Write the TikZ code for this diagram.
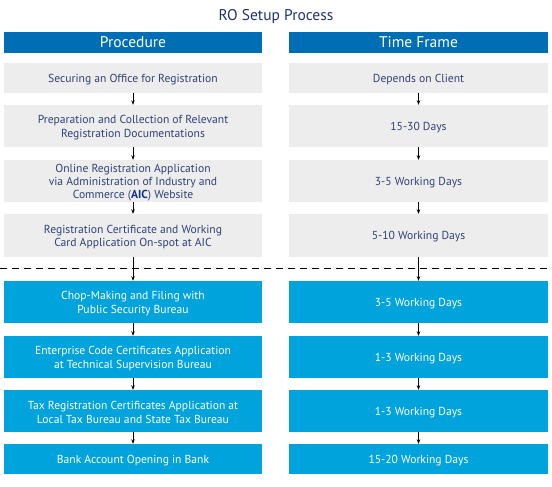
\documentclass[tikz,border=0pt]{standalone}
\usepackage{fontspec}
\setmainfont{PT Sans}
\usetikzlibrary{arrows.meta}
\definecolor{hdrblue}{RGB}{0,110,180}
\definecolor{boxgrey}{RGB}{237,237,237}
\definecolor{brightblue}{RGB}{0,163,220}
\definecolor{greytext}{RGB}{48,66,120}
\definecolor{titleblue}{RGB}{30,52,110}
\definecolor{aicblue}{RGB}{20,50,140}
\begin{document}
\begin{tikzpicture}[x=1pt,y=-1pt,
  hdr/.style={fill=hdrblue,text=white,font=\fontsize{15.5}{17}\selectfont,minimum height=21pt,inner sep=0pt},
  greybox/.style={fill=boxgrey,text=greytext,inner sep=0pt},
  bluebox/.style={fill=brightblue,text=white,inner sep=0pt},
  txt/.style={font=\fontsize{11.6}{13.3}\selectfont,align=center,inner sep=0pt},
  lcol/.style={minimum width=258pt},
  rcol/.style={minimum width=259pt},
  flow/.style={draw=black,line width=0.8pt,-{Stealth[length=4.5pt,width=3.5pt]}}]
\useasboundingbox (0,0) rectangle (552,487);
\fill[white] (0,0) rectangle (552,487);
\node[text=titleblue,font=\fontsize{15.5}{17}\selectfont] (title) at (276,17) {RO Setup Process};
\node[hdr,lcol] (hl) at (133,42.5) {Procedure};
\node[hdr,rcol] (hr) at (418.5,42.5) {Time Frame};
% left column
\node[greybox,lcol,minimum height=30pt] (l1) at (133,78) {};
\node[greybox,lcol,minimum height=42pt] (l2) at (133,126) {};
\node[greybox,lcol,minimum height=42pt] (l3) at (133,181) {};
\node[greybox,lcol,minimum height=43pt] (l4) at (133,235.5) {};
\node[bluebox,lcol,minimum height=42pt] (l5) at (133,302) {};
\node[bluebox,lcol,minimum height=42pt] (l6) at (133,357) {};
\node[bluebox,lcol,minimum height=42pt] (l7) at (133,411) {};
\node[bluebox,lcol,minimum height=30pt] (l8) at (133,459) {};
% right column
\node[greybox,rcol,minimum height=30pt] (r1) at (418.5,78) {};
\node[greybox,rcol,minimum height=42pt] (r2) at (418.5,126) {};
\node[greybox,rcol,minimum height=42pt] (r3) at (418.5,181) {};
\node[greybox,rcol,minimum height=43pt] (r4) at (418.5,235.5) {};
\node[bluebox,rcol,minimum height=42pt] (r5) at (418.5,302) {};
\node[bluebox,rcol,minimum height=42pt] (r6) at (418.5,357) {};
\node[bluebox,rcol,minimum height=42pt] (r7) at (418.5,411) {};
\node[bluebox,rcol,minimum height=30pt] (r8) at (418.5,459) {};
% texts
\begin{scope}[txt,text=greytext]
\node (l1t) at ([yshift=-1.5pt]l1.center) {Securing an Office for Registration};
\node (l2t) at ([yshift=-1.5pt]l2.center) {Preparation and Collection of Relevant\\Registration Documentations};
\node (l3t) at ([yshift=-1.5pt]l3.center) {Online Registration Application\\via Administration of Industry and\\Commerce (\textcolor{aicblue}{\textbf{AIC}}) Website};
\node (l4t) at ([yshift=-1.5pt]l4.center) {Registration Certificate and Working\\Card Application On-spot at AIC};
\node (r1t) at ([yshift=-1.5pt]r1.center) {Depends on Client};
\node (r2t) at ([yshift=-1.5pt]r2.center) {15-30 Days};
\node (r3t) at ([yshift=-1.5pt]r3.center) {3-5 Working Days};
\node (r4t) at ([yshift=-1.5pt]r4.center) {5-10 Working Days};
\end{scope}
\begin{scope}[txt,text=white]
\node (l5t) at ([yshift=-1.5pt]l5.center) {Chop-Making and Filing with\\Public Security Bureau};
\node (l6t) at ([yshift=-1.5pt]l6.center) {Enterprise Code Certificates Application\\at Technical Supervision Bureau};
\node (l7t) at ([yshift=-1.5pt]l7.center) {Tax Registration Certificates Application at\\Local Tax Bureau and State Tax Bureau};
\node (l8t) at ([yshift=-1.5pt]l8.center) {Bank Account Opening in Bank};
\node (r5t) at ([yshift=-1.5pt]r5.center) {3-5 Working Days};
\node (r6t) at ([yshift=-1.5pt]r6.center) {1-3 Working Days};
\node (r7t) at ([yshift=-1.5pt]r7.center) {1-3 Working Days};
\node (r8t) at ([yshift=-1.5pt]r8.center) {15-20 Working Days};
\end{scope}
% dashed separator
\coordinate (dl) at (0,268);
\coordinate (dr) at (552,268);
\draw[line width=0.8pt,dash pattern=on 7pt off 5pt] (dl) -- (dr);
% arrows
\foreach \a/\b in {l1/l2,l2/l3,l3/l4,l4/l5,l5/l6,l6/l7,l7/l8,r1/r2,r2/r3,r3/r4,r4/r5,r5/r6,r6/r7,r7/r8}
  \draw[flow] (\a.south) -- (\b.north);
\end{tikzpicture}
\end{document}
